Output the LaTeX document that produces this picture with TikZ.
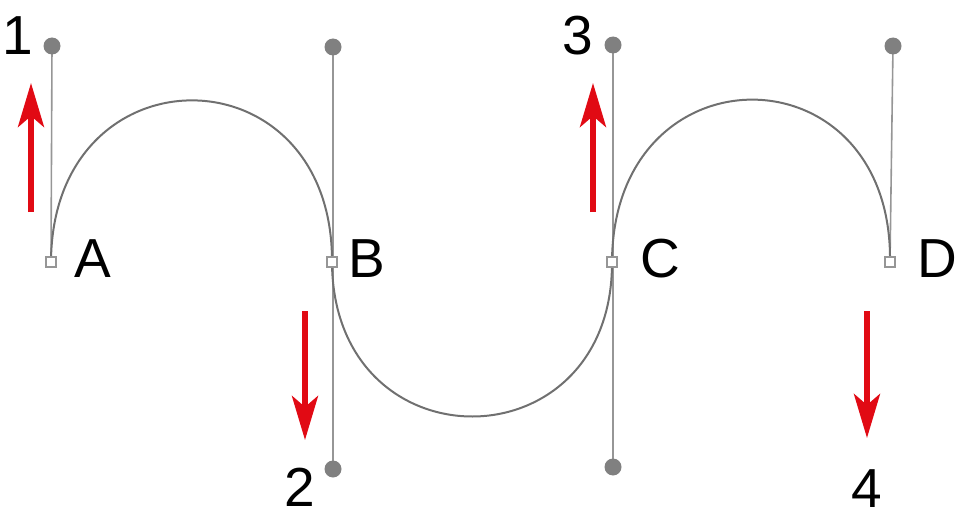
\documentclass[tikz,border=0pt]{standalone}
\usepackage{fontspec}
\setmainfont{Liberation Sans}
\usetikzlibrary{arrows.meta}
\definecolor{curvegray}{RGB}{112,112,112}
\definecolor{handlegray}{RGB}{150,150,150}
\definecolor{dotgray}{RGB}{128,128,128}
\definecolor{arrred}{RGB}{225,10,20}
\begin{document}
\begin{tikzpicture}[x=1pt,y=-1pt,
  anchorpt/.style={draw=handlegray, fill=white, line width=1.3pt, minimum size=10pt, inner sep=0pt, outer sep=0pt},
  handledot/.style={circle, fill=dotgray, minimum size=17pt, inner sep=0pt, outer sep=0pt},
  handleline/.style={draw=handlegray, line width=1.6pt},
  pathcurve/.style={draw=curvegray, line width=2pt},
  redarrow/.style={draw=arrred, line width=5.5pt, -{Stealth[length=44pt, width=26pt, inset=11pt]}},
  lbl/.style={font=\fontsize{55}{55}\selectfont, inner sep=0pt}]
\useasboundingbox (0,0) rectangle (970,519);
% handle end points
\coordinate (h1) at (52,46);
\coordinate (hB1) at (333,47);
\coordinate (hB2) at (333,469);
\coordinate (h3) at (613,45);
\coordinate (hC2) at (613,467);
\coordinate (hD) at (893,46);
% anchor positions
\coordinate (pA) at (51,262);
\coordinate (pB) at (332,262);
\coordinate (pC) at (612,262);
\coordinate (pD) at (890,262);
% handle lines
\draw[handleline] (pA) -- (h1);
\draw[handleline] (hB1) -- (hB2);
\draw[handleline] (h3) -- (hC2);
\draw[handleline] (pD) -- (hD);
% curves
\draw[pathcurve] (pA) .. controls (h1) and (hB1) .. (pB)
  .. controls (hB2) and (hC2) .. (pC)
  .. controls (h3) and (hD) .. (pD);
% dots
\node[handledot] (d1) at (h1) {};
\node[handledot] (dB1) at (hB1) {};
\node[handledot] (dB2) at (hB2) {};
\node[handledot] (d3) at (h3) {};
\node[handledot] (dC2) at (hC2) {};
\node[handledot] (dD) at (hD) {};
% anchor squares
\node[anchorpt] (sA) at (pA) {};
\node[anchorpt] (sB) at (pB) {};
\node[anchorpt] (sC) at (pC) {};
\node[anchorpt] (sD) at (pD) {};
% labels
\node[lbl] (lA) at (93,259) {A};
\node[lbl] (lB) at (367,259) {B};
\node[lbl] (lC) at (660,259) {C};
\node[lbl] (lD) at (937,259) {D};
\node[lbl] (l1) at (18,36) {1};
\node[lbl] (l2) at (300,487) {2};
\node[lbl] (l3) at (578,36) {3};
\node[lbl] (l4) at (867,489) {4};
% red arrows
\coordinate (a1s) at (31,212); \coordinate (a1e) at (31,83);
\coordinate (a2s) at (305,311); \coordinate (a2e) at (305,440);
\coordinate (a3s) at (593,212); \coordinate (a3e) at (593,83);
\coordinate (a4s) at (867,311); \coordinate (a4e) at (867,438);
\draw[redarrow] (a1s) -- (a1e);
\draw[redarrow] (a2s) -- (a2e);
\draw[redarrow] (a3s) -- (a3e);
\draw[redarrow] (a4s) -- (a4e);
\end{tikzpicture}
\end{document}
